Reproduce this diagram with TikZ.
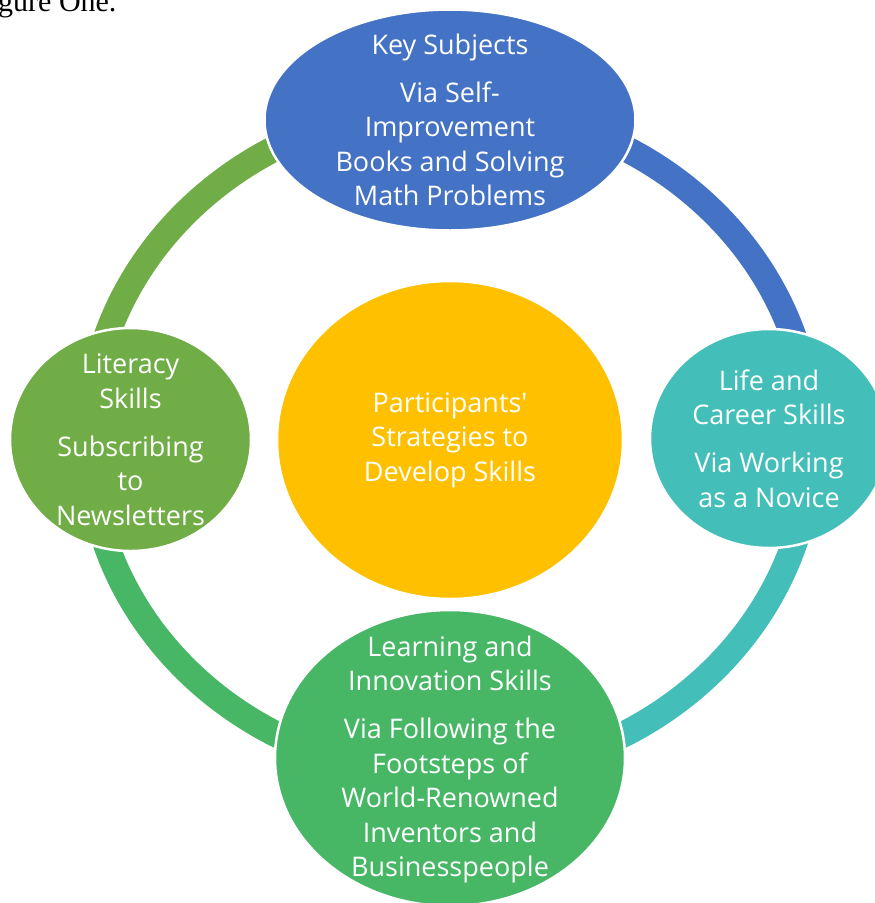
\documentclass[tikz,border=0pt]{standalone}
\usepackage{fontspec}
\setmainfont{Open Sans}[Ligatures=TeXOff]
\newfontfamily\serifx{Liberation Serif}
\usetikzlibrary{shapes.geometric}
\definecolor{cBlue}{HTML}{4472C4}
\definecolor{cOlive}{HTML}{70AD47}
\definecolor{cTeal}{HTML}{44BEB8}
\definecolor{cGreen}{HTML}{47B766}
\definecolor{cGold}{HTML}{FFC000}
\begin{document}
\begin{tikzpicture}[x=1pt,y=1pt,
  bub/.style={ellipse, draw=white, line width=2.5pt, inner sep=0pt},
  txt/.style={inner sep=0pt, text=white, align=center, font=\fontsize{27}{34.5}\selectfont},
  ring/.style={line width=26pt}]
\useasboundingbox (0,0) rectangle (875,-903);
\clip (0,0) rectangle (875,-903);
\node[anchor=base west, font=\serifx\fontsize{30}{36}\selectfont, inner sep=0pt] (title) at (-2,-11) {gure One.};
\coordinate (rc) at (450,-441);
\draw[ring, cBlue]  (rc) ++(0:361.5 and 334.4)   arc[start angle=0,   end angle=90,  x radius=361.5, y radius=334.4];
\draw[ring, cOlive] (rc) ++(90:361.5 and 334.4)  arc[start angle=90,  end angle=180, x radius=361.5, y radius=334.4];
\draw[ring, cGreen] (rc) ++(180:361.5 and 334.4) arc[start angle=180, end angle=270, x radius=361.5, y radius=334.4];
\draw[ring, cTeal]  (rc) ++(270:361.5 and 334.4) arc[start angle=270, end angle=360, x radius=361.5, y radius=334.4];
\node[bub, fill=cGold, minimum width=346pt, minimum height=318pt] (center) at (450,-440) {};
\node[txt] (centert) at (center) {Participants'\\Strategies to\\Develop Skills};
\node[bub, fill=cBlue, minimum width=371pt, minimum height=221pt] (top) at (450,-120) {};
\node[txt] (topt) at (top) {Key Subjects\\[13.5pt]Via Self-\\Improvement\\Books and Solving\\Math Problems};
\node[bub, fill=cTeal, minimum width=238pt, minimum height=219pt] (right) at (769,-438.5) {};
\node[txt] (rightt) at (right) {Life and\\Career Skills\\[13.5pt]Via Working\\as a Novice};
\node[bub, fill=cGreen, minimum width=350pt, minimum height=296pt] (bottom) at (450,-758) {};
\node[txt] (bottomt) at (450,-759.5) {Learning and\\Innovation Skills\\[13.5pt]Via Following the\\Footsteps of\\World-Renowned\\Inventors and\\Businesspeople};
\node[bub, fill=cOlive, minimum width=241pt, minimum height=223pt] (left) at (130.5,-439.5) {};
\node[txt] (leftt) at (left) {Literacy\\Skills\\[13.5pt]Subscribing\\to\\Newsletters};
\end{tikzpicture}
\end{document}
